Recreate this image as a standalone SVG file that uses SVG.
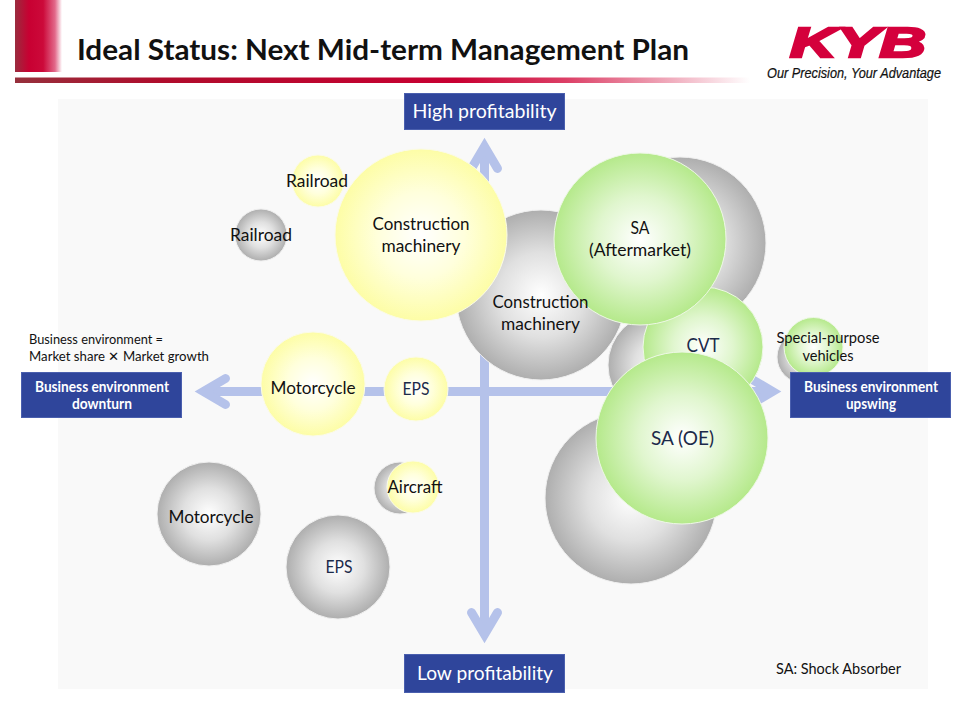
<svg xmlns="http://www.w3.org/2000/svg" width="954" height="706" viewBox="0 0 954 706">
<style>
text{font-family:"Lato","Open Sans","Noto Sans","Liberation Sans",sans-serif;fill:#111;text-anchor:middle}
.c{font-size:17px}
.n{fill:#1c2a4a}
.b{font-weight:700;font-size:14.500px;fill:#fff}
.box{fill:#2f459b;stroke:#4a5fae;stroke-width:1}
.gray{fill:url(#gg);stroke:#f0f0f0;stroke-width:1}
.yel{fill:url(#gy);stroke:#fbfbe8;stroke-width:1}
.grn{fill:url(#gn);stroke:#eef8e6;stroke-width:1}
.arrow{fill:none;stroke:#b5c2ea;stroke-width:9}
.head{fill:none;stroke:#b5c2ea;stroke-width:9;stroke-linecap:round;stroke-linejoin:miter;stroke-miterlimit:10}
</style>
<defs>
<radialGradient id="gg"><stop offset="0" stop-color="#ffffff"/><stop offset=".5" stop-color="#e0e0e0"/><stop offset="1" stop-color="#aeaeae"/></radialGradient>
<radialGradient id="gy"><stop offset="0" stop-color="#ffffff"/><stop offset=".5" stop-color="#ffffdc"/><stop offset="1" stop-color="#fdfda6"/></radialGradient>
<radialGradient id="gn"><stop offset="0" stop-color="#ffffff"/><stop offset=".5" stop-color="#e0f6ce"/><stop offset="1" stop-color="#b5e98b"/></radialGradient>
<linearGradient id="bar"><stop offset="0" stop-color="#96303c"/><stop offset=".2" stop-color="#b00c2c"/><stop offset=".6" stop-color="#c80032"/><stop offset=".75" stop-color="#dc3f66"/><stop offset="1" stop-color="#fff"/></linearGradient>
<linearGradient id="tab"><stop offset="0" stop-color="#9a2c3e"/><stop offset=".3" stop-color="#c80032"/><stop offset=".6" stop-color="#cc0a3a"/><stop offset=".85" stop-color="#e2688a"/><stop offset="1" stop-color="#ffffff"/></linearGradient>
</defs>
<rect width="954" height="706" fill="#fff"/>
<rect id="header-tab" x="15" y="0" width="47" height="72" fill="url(#tab)"/>
<rect id="header-bar" x="15" y="77.500" width="735" height="5.500" fill="url(#bar)"/>
<text x="383" y="60" style="font-weight:700;font-size:28.500px" textLength="612" lengthAdjust="spacingAndGlyphs">Ideal Status: Next Mid-term Management Plan</text>
<g id="logo">
<text x="858" y="57" style="font-family:'Liberation Sans',sans-serif;font-weight:700;font-style:italic;font-size:43px;fill:#d4003c;stroke:#d4003c;stroke-width:2.500" textLength="136" lengthAdjust="spacingAndGlyphs">KYB</text>
<text x="854" y="78" style="font-family:'Liberation Sans',sans-serif;font-style:italic;font-size:14px;stroke:#111;stroke-width:.2" textLength="174" lengthAdjust="spacingAndGlyphs">Our Precision, Your Advantage</text>
</g>
<rect id="plot" x="58" y="99" width="870" height="590" fill="#f9f9f9"/>
<g id="connectors">
<path class="arrow" d="M205 391.500H771"/>
<path class="head" d="M225.500 378.500L203.500 391.500L225.500 404.500"/>
<path class="head" d="M750.500 378.500L772.500 391.500L750.500 404.500"/>
<path class="arrow" d="M484.500 148V633"/>
<path class="head" d="M471.500 168.500L484.500 146.500L497.500 168.500"/>
<path class="head" d="M471.500 612.500L484.500 634.500L497.500 612.500"/>
</g>
<g id="n-railroad-now"><circle class="gray" cx="261" cy="235" r="26"/><text class="c" x="261" y="241" textLength="62" lengthAdjust="spacingAndGlyphs">Railroad</text></g>
<g id="n-construction-now"><circle class="gray" cx="541" cy="295" r="85"/></g>
<g id="n-sa-after-now"><circle class="gray" cx="680" cy="243" r="86"/></g>
<g id="n-cvt-now"><circle class="gray" cx="660" cy="365" r="52"/></g>
<g id="n-sa-oe-now"><circle class="gray" cx="631" cy="498" r="86"/></g>
<g id="n-special-now"><circle class="gray" cx="803" cy="357" r="26"/></g>
<g id="n-aircraft-now"><circle class="gray" cx="400" cy="488" r="26"/></g>
<g id="n-motorcycle-now"><circle class="gray" cx="209" cy="514" r="52"/><text class="c" x="211" y="523" textLength="85" lengthAdjust="spacingAndGlyphs">Motorcycle</text></g>
<g id="n-eps-now"><circle class="gray" cx="338" cy="567" r="52"/><text class="c n" x="339" y="573" textLength="27" lengthAdjust="spacingAndGlyphs">EPS</text></g>
<g id="n-railroad"><circle class="yel" cx="318" cy="181" r="26"/><text class="c" x="317" y="187" textLength="62" lengthAdjust="spacingAndGlyphs">Railroad</text></g>
<g id="n-construction"><circle class="yel" cx="421" cy="235" r="86"/><text class="c" x="421" y="230" textLength="97" lengthAdjust="spacingAndGlyphs">Construction</text><text class="c" x="421" y="252" textLength="79" lengthAdjust="spacingAndGlyphs">machinery</text></g>
<g id="n-motorcycle"><circle class="yel" cx="313" cy="384" r="52"/><text class="c" x="313" y="394" textLength="85" lengthAdjust="spacingAndGlyphs">Motorcycle</text></g>
<g id="n-eps"><circle class="yel" cx="416" cy="389" r="32"/><text class="c n" x="416" y="395" textLength="27" lengthAdjust="spacingAndGlyphs">EPS</text></g>
<g id="n-aircraft"><circle class="yel" cx="413" cy="487" r="26"/><text class="c" x="415" y="493" textLength="55" lengthAdjust="spacingAndGlyphs">Aircraft</text></g>
<g id="n-cvt"><circle class="grn" cx="703" cy="347" r="60"/><text class="n" x="703" y="352" style="font-size:19px" textLength="33" lengthAdjust="spacingAndGlyphs">CVT</text></g>
<g id="n-sa-after"><circle class="grn" cx="640" cy="239" r="86"/><text class="c" x="640" y="234" textLength="19" lengthAdjust="spacingAndGlyphs">SA</text><text class="c" x="640" y="256" textLength="102" lengthAdjust="spacingAndGlyphs">(Aftermarket)</text></g>
<g id="n-sa-oe"><circle class="grn" cx="682" cy="438" r="86"/><text class="n" x="682.500" y="445" style="font-size:20px" textLength="63" lengthAdjust="spacingAndGlyphs">SA (OE)</text></g>
<g id="n-special"><circle class="grn" cx="813.500" cy="347" r="29.500"/><text x="828" y="343" style="font-size:15px" textLength="103" lengthAdjust="spacingAndGlyphs">Special-purpose</text><text x="828" y="361" style="font-size:15px" textLength="51" lengthAdjust="spacingAndGlyphs">vehicles</text></g>
<g id="n-construction-now-label"><text class="c" x="540.500" y="308" textLength="96" lengthAdjust="spacingAndGlyphs">Construction</text><text class="c" x="540.500" y="330" textLength="79" lengthAdjust="spacingAndGlyphs">machinery</text></g>
<g id="n-high"><rect class="box" x="404.500" y="93.500" width="160" height="36"/><text x="484.500" y="118" style="font-size:20px;fill:#fff" textLength="144" lengthAdjust="spacingAndGlyphs">High profitability</text></g>
<g id="n-low"><rect class="box" x="404.500" y="654.500" width="160" height="38"/><text x="485" y="680" style="font-size:20px;fill:#fff" textLength="136" lengthAdjust="spacingAndGlyphs">Low profitability</text></g>
<g id="n-downturn"><rect class="box" x="21.500" y="372.500" width="160" height="45"/><text class="b" x="102" y="392" textLength="134" lengthAdjust="spacingAndGlyphs">Business environment</text><text class="b" x="102" y="409" textLength="60" lengthAdjust="spacingAndGlyphs">downturn</text></g>
<g id="n-upswing"><rect class="box" x="790.500" y="372.500" width="160" height="45"/><text class="b" x="871" y="392" textLength="134" lengthAdjust="spacingAndGlyphs">Business environment</text><text class="b" x="871" y="409" textLength="50" lengthAdjust="spacingAndGlyphs">upswing</text></g>
<text x="29" y="344" style="font-size:13px;text-anchor:start" textLength="134" lengthAdjust="spacingAndGlyphs">Business environment =</text>
<text x="29" y="361" style="font-size:13px;text-anchor:start" textLength="180" lengthAdjust="spacingAndGlyphs">Market share ✕ Market growth</text>
<text x="776" y="674" style="font-size:15px;text-anchor:start" textLength="125" lengthAdjust="spacingAndGlyphs">SA: Shock Absorber</text>
</svg>
